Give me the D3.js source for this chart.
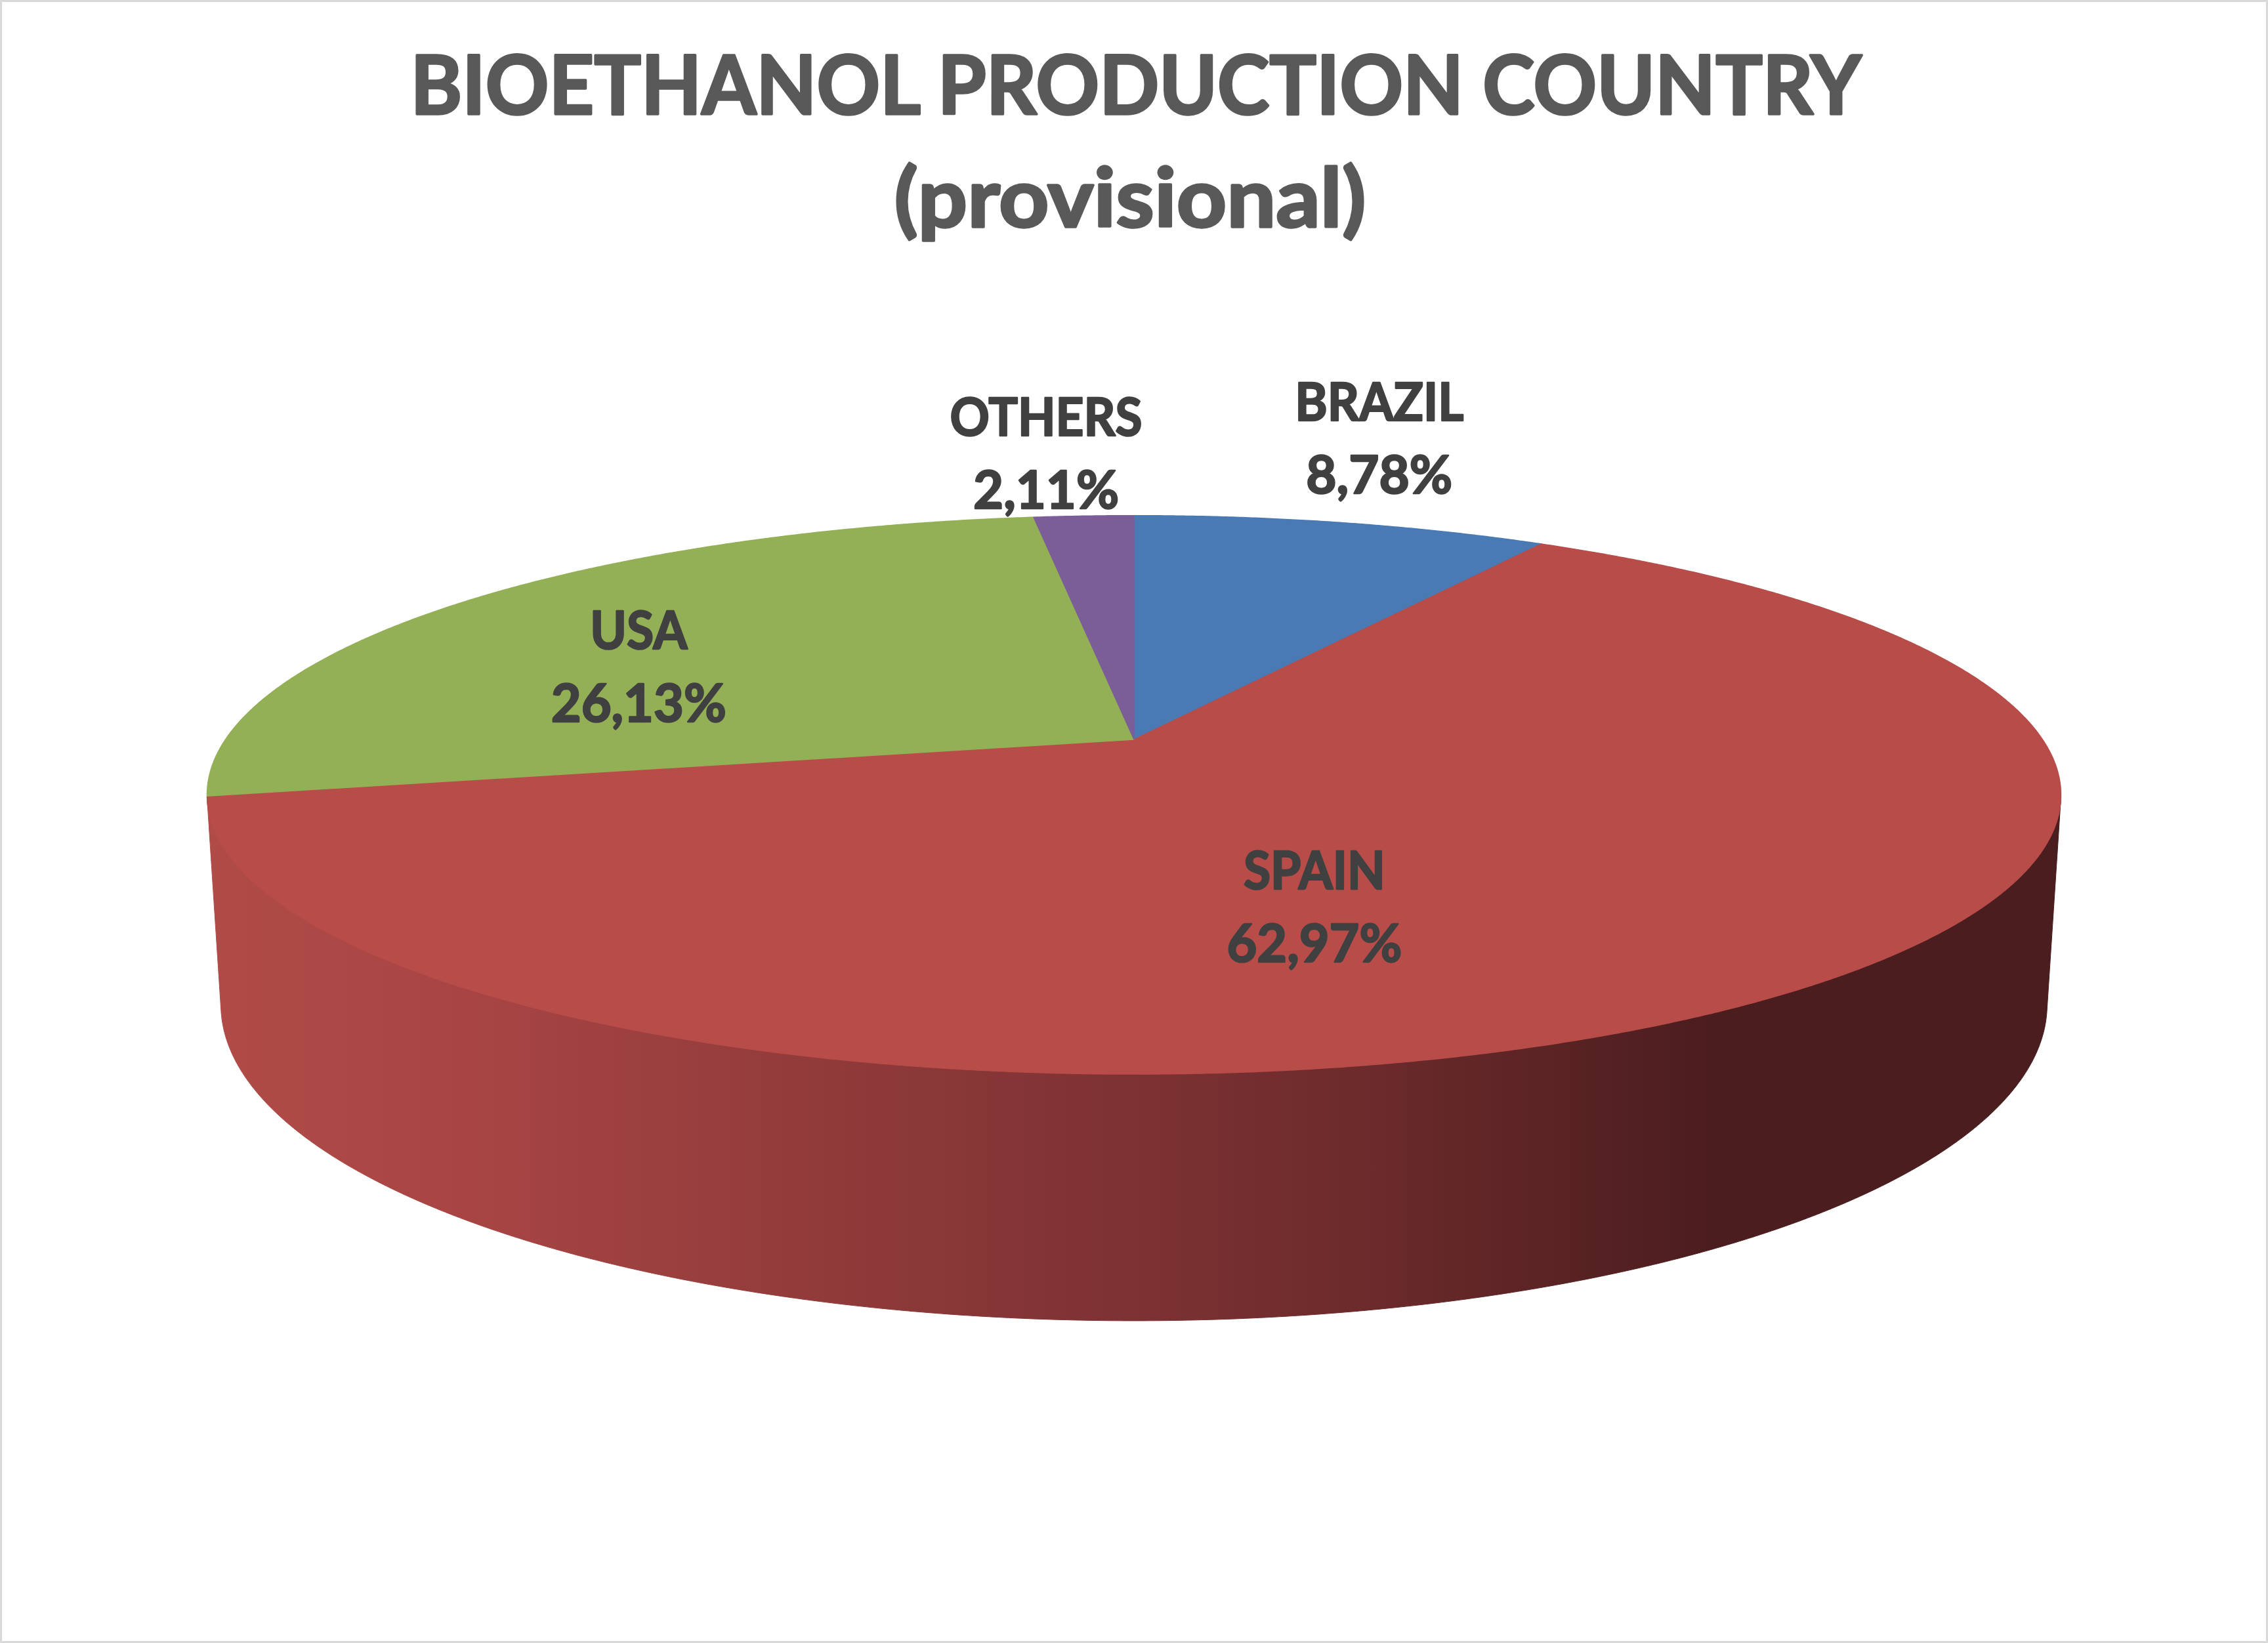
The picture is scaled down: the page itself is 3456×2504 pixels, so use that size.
<!DOCTYPE html>
<html><head><meta charset="utf-8">
<script src="https://cdn.jsdelivr.net/npm/d3@7"></script>
<style>html,body{margin:0;padding:0;background:#fff;overflow:hidden}</style>
</head><body>
<svg id="chart" width="3456" height="2504" xmlns="http://www.w3.org/2000/svg"></svg>
<script>
// ---- data ----
const countries = ["BRAZIL", "SPAIN", "USA", "OTHERS"];
const shares = [8.78, 62.97, 26.13, 2.11];
const sliceColors = ["#4a7ab4", "#b84c49", "#93b056", "#7b5e98"];
const titleLines = ["BIOETHANOL PRODUCTION COUNTRY", "(provisional)"];

// ---- setup ----
const W = 3456, H = 2504;
const svg = d3.select("#chart");
svg.append("rect").attr("x", 0).attr("y", 0).attr("width", W).attr("height", H).attr("fill", "#fff");
svg.append("rect").attr("x", 1.5).attr("y", 1.5).attr("width", W - 3).attr("height", H - 3)
  .attr("fill", "none").attr("stroke", "#d9d9d9").attr("stroke-width", 3);

// perspective camera for the 3D pie
const cam = { cx: 1728, cy: 1127, f: 6673, D: 4.82, phi: Math.asin(0.2954), thick: 0.2376 };
const sinP = Math.sin(cam.phi), cosP = Math.cos(cam.phi);
function proj(theta, r, h) {
  const u = r * Math.sin(theta), v = -r * Math.cos(theta);
  const depth = cam.D - v * cosP - h * sinP;
  return [cam.cx + cam.f * u / depth, cam.cy + cam.f * (v * sinP - h * cosP) / depth];
}
function arcPts(a0, a1, r, h) {
  const n = Math.max(2, Math.ceil(Math.abs(a1 - a0) / (Math.PI / 720)));
  return d3.range(n + 1).map(i => proj(a0 + (a1 - a0) * i / n, r, h));
}

const data = countries.map((c, i) => ({ name: c, value: shares[i], color: sliceColors[i] }));
const arcs = d3.pie().sort(null).value(d => d.value).startAngle(0).endAngle(2 * Math.PI)(data);
const line = d3.line();

// side gradient
const defs = svg.append("defs");
const grad = defs.append("linearGradient").attr("id", "sideGrad")
  .attr("gradientUnits", "userSpaceOnUse").attr("x1", 316).attr("y1", 0).attr("x2", 3140).attr("y2", 0);
[[0, "#b04b47"], [0.136, "#a84544"], [0.384, "#8b3838"], [0.508, "#7c3132"],
 [0.632, "#6b2a2b"], [0.809, "#4c1d1e"], [1, "#4a1d1e"]].forEach(s =>
  grad.append("stop").attr("offset", s[0]).attr("stop-color", s[1]));

// silhouette angles of the cylinder side
const silA = Math.acos(-1 / (cam.D * cosP));
const silB = 2 * Math.PI - silA;

// side faces
const sideG = svg.append("g");
arcs.forEach(a => {
  const a0 = Math.max(a.startAngle, silA), a1 = Math.min(a.endAngle, silB);
  if (a1 <= a0) return;
  const top = arcPts(a0, a1, 1, 0);
  const bot = arcPts(a1, a0, 1, -cam.thick);
  sideG.append("path").attr("d", line(top.concat(bot)) + "Z")
    .attr("fill", "url(#sideGrad)").attr("stroke", "url(#sideGrad)").attr("stroke-width", 1);
});

// top faces
const topG = svg.append("g");
arcs.forEach(a => {
  const pts = [proj(0, 0, 0)].concat(arcPts(a.startAngle, a.endAngle, 1, 0));
  topG.append("path").attr("d", line(pts) + "Z")
    .attr("fill", a.data.color).attr("stroke", a.data.color).attr("stroke-width", 1.5)
    .attr("stroke-linejoin", "round");
});

// labels
const placement = {
  BRAZIL: { r: 1.5, dx: -66, dy: 0, w1: 257, w2: 223 },
  SPAIN: { r: 0.3275, dx: 0, dy: 139, w1: 216, w2: 267 },
  USA: { r: 0.724, dx: 0, dy: 47, w1: 148, w2: 267 },
  OTHERS: { r: 1.353, dx: -36, dy: 0, w1: 293, w2: 222 }
};
const fmt = v => v.toFixed(2).replace(".", ",") + "%";
const labG = svg.append("g").attr("font-family", "Lato, 'Open Sans', sans-serif")
  .attr("font-weight", 700).attr("font-size", 81).attr("fill", "#404040")
  .attr("stroke", "#404040").attr("stroke-width", 2.5).attr("stroke-linejoin", "round")
  .attr("text-anchor", "middle");
arcs.forEach(a => {
  const p = placement[a.data.name];
  const mid = (a.startAngle + a.endAngle) / 2;
  const [x, y] = proj(mid, p.r, 0);
  const ax = x + p.dx, ay = y + p.dy;
  labG.append("text").attr("x", ax).attr("y", ay - 27).text(a.data.name)
    .attr("textLength", p.w1).attr("lengthAdjust", "spacingAndGlyphs");
  labG.append("text").attr("x", ax).attr("y", ay + 84).text(fmt(a.data.value))
    .attr("textLength", p.w2).attr("lengthAdjust", "spacingAndGlyphs");
});

// title
const tG = svg.append("g").attr("font-family", "Lato, 'Open Sans', sans-serif")
  .attr("font-weight", 700).attr("font-size", 124).attr("fill", "#595959")
  .attr("stroke", "#595959").attr("stroke-width", 3.5).attr("stroke-linejoin", "round")
  .attr("text-anchor", "middle");
tG.append("text").attr("x", 1731).attr("y", 174).text(titleLines[0])
  .attr("textLength", 2211).attr("lengthAdjust", "spacingAndGlyphs");
tG.append("text").attr("x", 1722).attr("y", 346).text(titleLines[1])
  .attr("textLength", 719).attr("lengthAdjust", "spacingAndGlyphs");
</script>
</body></html>
